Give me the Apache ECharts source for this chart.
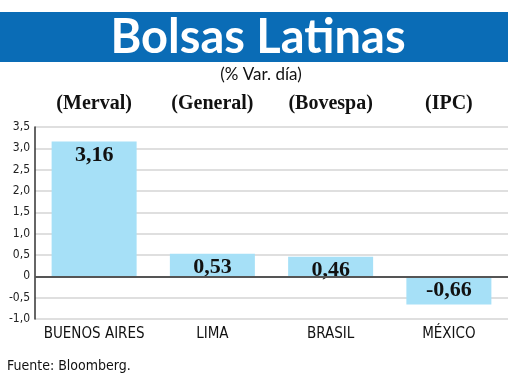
<!DOCTYPE html>
<html><head><meta charset="utf-8">
<script src="https://cdn.jsdelivr.net/npm/echarts@6/dist/echarts.min.js"></script>
<style>html,body{margin:0;padding:0;background:#fff}#c{width:520px;height:388px}</style>
</head><body><div id="c"></div>
<script>
const categories = ['BUENOS AIRES', 'LIMA', 'BRASIL', 'MÉXICO'];
const indexNames = ['(Merval)', '(General)', '(Bovespa)', '(IPC)'];
const values = [3.16, 0.53, 0.46, -0.66];
const titleText = 'Bolsas Latinas';
const subtitleText = '(% Var. día)';
const sourceText = 'Fuente: Bloomberg.';

const fmt = v => v === 0 ? '0' : v.toFixed(1).replace('.', ',');
const fmt2 = v => v.toFixed(2).replace('.', ',');

const chart = echarts.init(document.getElementById('c'), null, {renderer: 'canvas'});
chart.setOption({
  animation: false,
  backgroundColor: '#fff',
  grid: {left: 35, right: 12, top: 127, bottom: 69, containLabel: false},
  graphic: [
    {type: 'rect', shape: {x: 0, y: 12, width: 508, height: 50}, style: {fill: '#0a6cb6'}},
    {type: 'text', x: 258, y: 38, style: {text: titleText, fill: '#fff', font: 'bold 47px Lato, sans-serif', align: 'center', verticalAlign: 'middle'}},
    {type: 'text', x: 261, y: 75, style: {text: subtitleText, fill: '#111', font: '17px Lato, sans-serif', align: 'center', verticalAlign: 'middle'}},
    {type: 'text', x: 7, y: 366, style: {text: sourceText, fill: '#111', font: '14px "DejaVu Sans Condensed", "Liberation Sans Narrow", sans-serif', align: 'left', verticalAlign: 'middle'}}
  ],
  xAxis: [
    {type: 'category', data: categories, position: 'bottom',
     axisLine: {show: false, onZero: false}, axisTick: {show: false},
     axisLabel: {interval: 0, color: '#111', fontSize: 15, margin: 8, fontFamily: '"DejaVu Sans Condensed", "Liberation Sans Narrow", sans-serif'}},
    {type: 'category', data: indexNames, position: 'top',
     axisLine: {show: false}, axisTick: {show: false},
     axisLabel: {interval: 0, color: '#111', fontSize: 20, fontWeight: 'bold', margin: 13, fontFamily: '"Liberation Serif", serif'}}
  ],
  yAxis: {
    type: 'value', min: -1, max: 3.5, interval: 0.5,
    axisLine: {show: true, lineStyle: {color: '#333', width: 1.5}},
    axisTick: {show: false},
    splitLine: {lineStyle: {color: '#d4d4d4', width: 1.5}},
    axisLabel: {color: '#222', fontSize: 12, margin: 5, formatter: fmt, fontFamily: '"DejaVu Sans Condensed", sans-serif'}
  },
  series: [{
    type: 'bar', xAxisIndex: 0, barWidth: 85,
    data: values.map(v => ({value: v, label: {position: v < 0 ? 'insideBottom' : 'insideTop'}})),
    itemStyle: {color: '#a6e0f7'},
    label: {show: true, formatter: p => fmt2(p.value), color: '#111', fontSize: 22, fontWeight: 'bold', fontFamily: '"Liberation Serif", serif', distance: 3},
    markLine: {silent: true, symbol: 'none', label: {show: false},
      lineStyle: {color: '#555', width: 2, type: 'solid'}, data: [{yAxis: 0}]}
  }]
});
</script></body></html>
